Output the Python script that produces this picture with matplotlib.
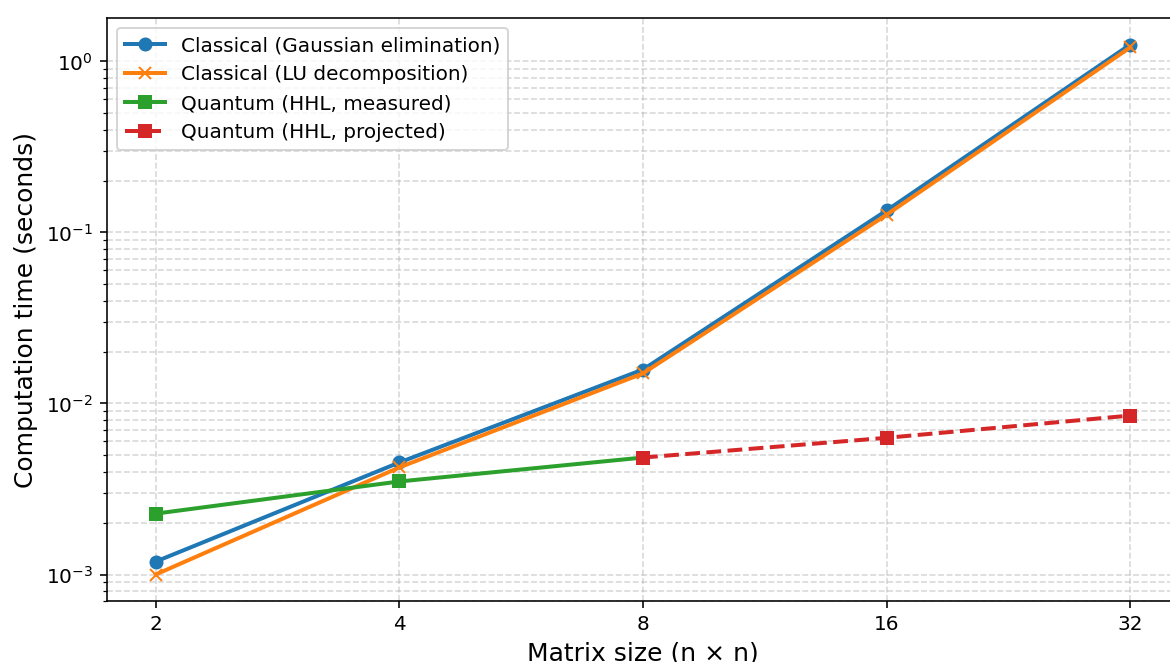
import matplotlib
matplotlib.use("Agg")
import matplotlib.pyplot as plt
from matplotlib.ticker import FixedLocator, FixedFormatter

# données
sizes = [2, 4, 8, 16, 32]
gauss_times = [0.00119, 0.00452, 0.0158, 0.1345, 1.257]
lu_times = [0.0010, 0.00423, 0.0150, 0.127, 1.21]
hhl_sizes = [2, 4, 8]
hhl_measured = [0.00227, 0.0035, 0.00483]
proj_sizes = [8, 16, 32]
hhl_projected = [0.00483, 0.0063, 0.0085]
tick_labels = ["2", "4", "8", "16", "32"]

BLUE = "#1f77b4"
ORANGE = "#ff7f0e"
GREEN = "#2ca02c"
RED = "#d62728"

DPI = 144
fig = plt.figure(figsize=(1170 / DPI, 662 / DPI), dpi=DPI, facecolor="white")
ax = fig.add_axes([107 / 1170, 1 - 601 / 662, (1179 - 107) / 1170, (601 - 18) / 662])

ax.plot(sizes, gauss_times, color=BLUE, marker="o", linewidth=2, markersize=6,
        label="Classical (Gaussian elimination)")
ax.plot(sizes, lu_times, color=ORANGE, marker="x", linewidth=2, markersize=6,
        label="Classical (LU decomposition)")
ax.plot(hhl_sizes, hhl_measured, color=GREEN, marker="s", linewidth=2, markersize=6,
        label="Quantum (HHL, measured)")
ax.plot(proj_sizes, hhl_projected, color=RED, marker="s", linewidth=2, markersize=6,
        linestyle="--", label="Quantum (HHL, projected)")

ax.set_xscale("log", base=2)
ax.set_yscale("log")
ax.xaxis.set_major_locator(FixedLocator(sizes))
ax.xaxis.set_major_formatter(FixedFormatter(tick_labels))
ax.xaxis.set_minor_locator(FixedLocator([]))

ax.tick_params(labelsize=10)
ax.set_xlabel("Matrix size (n × n)", fontsize=12.5)
ax.set_ylabel("Computation time (seconds)", fontsize=12.5)

ax.grid(True, which="both", linestyle="--", alpha=0.5)
ax.legend(loc="upper left", fontsize=10)

fig.savefig("out.png", dpi=DPI)
plt.close(fig)
